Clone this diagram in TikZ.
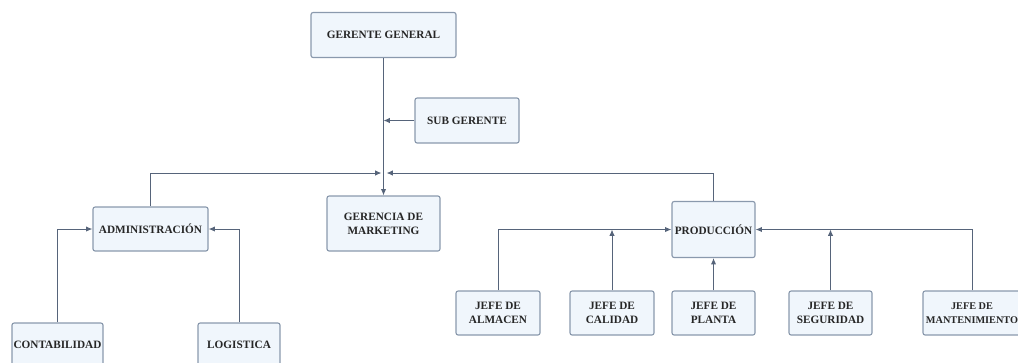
\documentclass[tikz,border=0pt]{standalone}
\usepackage{fontspec}
\setmainfont{Liberation Serif}
\usetikzlibrary{arrows.meta,positioning,calc}
\definecolor{boxfill}{HTML}{F0F6FC}
\definecolor{boxline}{HTML}{8A99AD}
\definecolor{wireclr}{HTML}{56647A}
\tikzset{
    -{Latex[length=4.5pt,width=3.8pt]},semithick,
    unit/.style ={rectangle, rounded corners=1.5pt, draw=boxline, fill=boxfill, line width=0.8pt, align=center, text=black!85, inner sep=0pt, font=\fontsize{8}{10}\selectfont\bfseries},
    boxsize/.style 2 args={minimum width=#1*0.025cm, minimum height=#2*0.025cm},
    link/.style = {draw=wireclr, line width=0.7pt}
}

\begin{document}
\begin{tikzpicture}[x=0.025cm,y=-0.025cm]
    \path[use as bounding box, clip] (0,0) rectangle (1018,362);

    % Top
    \node[unit, boxsize={145}{45}] (gg) at (383.5,35) {GERENTE GENERAL};
    \node[unit, boxsize={104}{45}] (sub) at (467,120.5) {SUB GERENTE};
    \coordinate (jn) at (383.5,173);

    % Second level
    \node[unit, boxsize={115}{44}] (admin) at (150.5,229) {ADMINISTRACIÓN};
    \node[unit, boxsize={113}{55}] (mkt) at (383.5,223.5) {GERENCIA DE\\MARKETING};
    \node[unit, boxsize={83}{56}] (prod) at (713.5,229.5) {PRODUCCIÓN};

    % Administracion
    \node[unit, boxsize={91}{44}] (cont) at (57.5,345) {CONTABILIDAD};
    \node[unit, boxsize={82}{44}] (logi) at (239,345) {LOGISTICA};

    % Produccion
    \node[unit, boxsize={84}{44}] (alm) at (498,313) {JEFE DE\\ALMACEN};
    \node[unit, boxsize={84}{44}] (cal) at (612,313) {JEFE DE\\CALIDAD};
    \node[unit, boxsize={83}{44}] (pla) at (713.5,313) {JEFE DE\\PLANTA};
    \node[unit, boxsize={83}{44}] (seg) at (830.5,313) {JEFE DE\\SEGURIDAD};
    \node[unit, boxsize={98}{44}, font=\fontsize{7.3}{10}\selectfont\bfseries] (man) at (972,313) {JEFE DE\\MANTENIMIENTO};

    % Directed edge
    \draw[link] (gg) -- (mkt);
    \draw[link] (sub) -- (sub -| gg);
    \draw[link] (admin) |- ($(jn)+(-2,0)$);
    \draw[link] (prod) |- ($(jn)+(3,0)$);

    \draw[link] (cont) |- (admin);
    \draw[link] (logi) |- (admin);

    \draw[link] (alm) |- (prod);
    \draw[link] (cal) -- (cal |- prod);
    \draw[link] (pla) -- (prod);
    \draw[link] (seg) -- (seg |- prod);
    \draw[link] (man) |- (prod);
\end{tikzpicture}
\end{document}
